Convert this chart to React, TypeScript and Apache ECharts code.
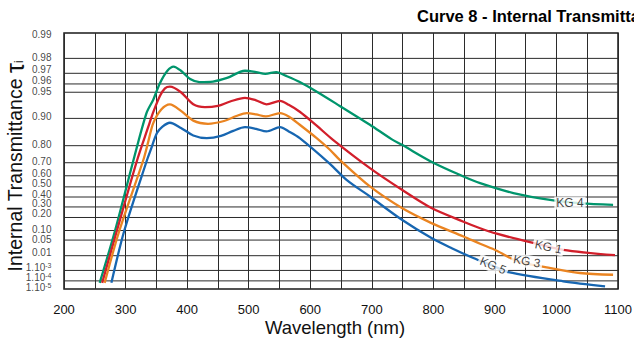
import React, { useEffect, useRef } from "react";
import * as echarts from "echarts";

// Internal transmittance of Schott KG heat-absorbing glasses
const kg1Wavelength = [262, 286, 319, 337, 345, 356, 364, 372, 390, 410, 429, 450, 470, 494, 512, 529, 551, 565, 583, 610, 637, 697, 749, 797, 849, 876, 903, 957, 1011, 1095];
const kg1Transmittance = [6e-5, 0.1, 0.72, 0.876, 0.915, 0.945, 0.955, 0.957, 0.95, 0.931, 0.9255, 0.928, 0.936, 0.942, 0.938, 0.931, 0.937, 0.93, 0.916, 0.88, 0.827, 0.661, 0.472, 0.289, 0.164, 0.115, 0.081, 0.042, 0.02, 0.0107];

const kg3Wavelength = [266, 290, 329, 337, 345, 358, 372, 390, 410, 434, 460, 480, 497, 512, 528, 551, 565, 583, 610, 632, 648, 697, 749, 797, 849, 876, 903, 937, 984, 1038, 1092];
const kg3Transmittance = [6e-5, 0.1, 0.72, 0.82, 0.887, 0.921, 0.931, 0.918, 0.894, 0.885, 0.893, 0.906, 0.913, 0.91, 0.905, 0.913, 0.905, 0.882, 0.835, 0.779, 0.719, 0.504, 0.289, 0.153, 0.0665, 0.0364, 0.018, 0.0046, 0.00174, 0.000605, 0.00042];

const kg4Wavelength = [258, 283, 313, 334, 345, 356, 368, 378, 390, 405, 420, 442, 465, 494, 512, 527, 545, 560, 583, 610, 648, 697, 732, 749, 800, 849, 876, 930, 995, 1040, 1092];
const kg4Transmittance = [6e-5, 0.1, 0.72, 0.913, 0.939, 0.961, 0.972, 0.975, 0.972, 0.965, 0.962, 0.9625, 0.966, 0.972, 0.971, 0.9695, 0.971, 0.968, 0.962, 0.951, 0.928, 0.882, 0.83, 0.804, 0.7, 0.594, 0.535, 0.44, 0.365, 0.335, 0.32];

const kg5Wavelength = [277, 298, 335, 341, 351, 360, 372, 390, 410, 432, 455, 475, 494, 512, 529, 551, 565, 583, 632, 659, 697, 749, 797, 830, 865, 897, 922, 1011, 1079];
const kg5Transmittance = [6e-5, 0.1, 0.72, 0.78, 0.854, 0.876, 0.888, 0.872, 0.845, 0.834, 0.843, 0.862, 0.8745, 0.869, 0.86, 0.8745, 0.86, 0.834, 0.692, 0.565, 0.405, 0.18, 0.0588, 0.0236, 0.0074, 0.0023, 0.00071, 0.000089, 0.000022];

const curveNames = ["KG 1", "KG 3", "KG 4", "KG 5"];
const curveLabelWavelength = [987, 952, 1022, 897];
const curveLabelTransmittance = [0.0267, 0.0046, 0.339, 0.0023];

const tickValues = [0.99, 0.98, 0.97, 0.96, 0.95, 0.9, 0.8, 0.7, 0.6, 0.5, 0.4, 0.3, 0.2, 0.1, 0.05, 0.01, 1e-3, 1e-4, 1e-5];
const tickLabels = ["0.99", "0.98", "0.97", "0.96", "0.95", "0.90", "0.80", "0.70", "0.60", "0.50", "0.40", "0.30", "0.20", "0.10", "0.05", "0.01", "1.10^-3", "1.10^-4", "1.10^-5"];

const wavelengthMin = 200;
const wavelengthMax = 1100;

// Double-logarithmic transmittance scale, high transmittance at the top
const toAxis = (t: number) => -Math.log10(-Math.log10(t));

const FONT = '"Liberation Sans", Arial, Helvetica, sans-serif';
const GRID_COLOR = "#2b2b2b";

const curveColors: Record<string, string> = {
  "KG 1": "#d21f2b",
  "KG 3": "#ea8421",
  "KG 4": "#00956c",
  "KG 5": "#1766b1",
};
const curveLabelRotation: Record<string, number> = {
  "KG 1": -12,
  "KG 3": -10,
  "KG 4": 0,
  "KG 5": -22,
};
// small vertical nudges so crowded tick labels do not collide
const tickLabelNudge: Record<string, number> = {
  "0.99": 1,
  "0.97": -4,
  "0.96": -3,
  "0.90": -2,
  "0.60": -2,
  "0.50": -3,
  "0.40": -3,
  "0.30": -3,
  "0.20": -4,
  "0.01": -3,
  "1.10^-3": -3,
  "1.10^-4": -3,
  "1.10^-5": -2,
};

const richTick = (s: string) => {
  const i = s.indexOf("^");
  if (i < 0) return s;
  return `{b|${s.slice(0, i)}}{s|${s.slice(i + 1)}}`;
};

export default function App() {
  const ref = useRef<HTMLDivElement>(null);

  useEffect(() => {
    document.body.style.margin = "0";
    if (!ref.current) return;
    const chart = echarts.init(ref.current, undefined, { renderer: "svg" });

    const curves = [
      { name: "KG 4", wl: kg4Wavelength, tr: kg4Transmittance },
      { name: "KG 1", wl: kg1Wavelength, tr: kg1Transmittance },
      { name: "KG 3", wl: kg3Wavelength, tr: kg3Transmittance },
      { name: "KG 5", wl: kg5Wavelength, tr: kg5Transmittance },
    ];

    const lineSeries = curves.map((c) => ({
      type: "line",
      name: c.name,
      data: c.wl.map((w, i) => [w, toAxis(c.tr[i])]),
      showSymbol: false,
      symbol: "none",
      smooth: 0.3,
      lineStyle: { color: curveColors[c.name], width: 2.3 },
      z: 10,
      silent: true,
    }));

    // horizontal grid lines at every transmittance tick
    const gridLineSeries = tickValues.slice(1, -1).map((t) => ({
      type: "line",
      name: "grid",
      data: [
        [wavelengthMin, toAxis(t)],
        [wavelengthMax, toAxis(t)],
      ],
      showSymbol: false,
      symbol: "none",
      silent: true,
      z: 1,
      lineStyle: { color: GRID_COLOR, width: 1 },
    }));

    const option: any = {
      animation: false,
      backgroundColor: "#ffffff",
      grid: {
        left: 64,
        right: 16,
        top: 33,
        bottom: 50,
        containLabel: false,
        outerBoundsMode: "none",
        show: true,
        borderColor: "#1a1a1a",
        borderWidth: 1.5,
        backgroundColor: "#ffffff",
      },
      xAxis: {
        type: "value",
        min: wavelengthMin,
        max: wavelengthMax,
        interval: 50,
        axisLine: { show: false },
        axisTick: { show: false },
        splitLine: { show: true, lineStyle: { color: GRID_COLOR, width: 1 } },
        axisLabel: {
          margin: 14,
          fontSize: 13,
          color: "#111",
          fontFamily: FONT,
          formatter: (v: number) => (v % 100 === 0 ? String(v) : ""),
        },
        name: "Wavelength (nm)",
        nameLocation: "middle",
        nameGap: 29,
        nameMoveOverlap: false,
        nameTextStyle: { fontSize: 18.5, color: "#111", fontFamily: FONT, padding: [0, 12, 0, 0] },
      },
      yAxis: {
        type: "value",
        min: toAxis(tickValues[tickValues.length - 1]),
        max: toAxis(tickValues[0]),
        axisLine: { show: false },
        axisTick: { show: false },
        axisLabel: { show: false },
        splitLine: { show: false },
        name: "{n|Internal Transmittance }{t|τ}{s|i}",
        nameLocation: "middle",
        nameGap: 37,
        nameMoveOverlap: false,
        nameTextStyle: {
          color: "#111",
          fontFamily: FONT,
          fontSize: 19.5,
          padding: [0, 10, 0, 0],
          rich: {
            n: { fontSize: 19.5, fontFamily: FONT, color: "#111" },
            t: { fontSize: 25, fontFamily: FONT, color: "#111" },
            s: { fontSize: 12, fontFamily: FONT, color: "#111", padding: [8, 0, 0, 0] },
          },
        },
      },
      graphic: [
        {
          type: "text",
          x: 417,
          y: 7,
          style: {
            text: "Curve 8 - Internal Transmittance",
            font: `bold 16.5px ${FONT}`,
            fill: "#000",
          },
        },
      ],
      series: [
        ...gridLineSeries,
        // tick labels of the transmittance scale
        {
          type: "scatter",
          name: "ticks",
          silent: true,
          clip: false,
          symbolSize: 1,
          itemStyle: { color: "rgba(0,0,0,0)" },
          z: 20,
          data: tickValues.map((t, i) => ({
            value: [wavelengthMin, toAxis(t)],
            label: { offset: [0, tickLabelNudge[tickLabels[i]] ?? -1] },
          })),
          label: {
            show: true,
            position: "left",
            distance: 12,
            fontSize: 10,
            color: "#111",
            fontFamily: FONT,
            formatter: (p: any) => richTick(tickLabels[p.dataIndex]),
            rich: {
              b: { fontSize: 10, fontFamily: FONT, color: "#111" },
              s: { fontSize: 7, fontFamily: FONT, color: "#111", verticalAlign: "top", padding: [0, 0, 4, 0] },
            },
          },
        },
        ...lineSeries,
        // curve name tags sitting on the lines
        {
          type: "scatter",
          name: "curveNames",
          silent: true,
          clip: false,
          symbolSize: 1,
          itemStyle: { color: "rgba(0,0,0,0)" },
          z: 30,
          data: curveNames.map((n, i) => ({
            value: [curveLabelWavelength[i], toAxis(curveLabelTransmittance[i])],
            label: { rotate: curveLabelRotation[n] },
          })),
          label: {
            show: true,
            position: "inside",
            fontSize: 12,
            color: "#111",
            fontFamily: FONT,
            backgroundColor: "#ffffff",
            padding: [1, 2, 0, 2],
            formatter: (p: any) => curveNames[p.dataIndex],
          },
        },
      ],
    };

    chart.setOption(option);
    return () => chart.dispose();
  }, []);

  return <div ref={ref} style={{ width: 634, height: 339 }} />;
}
